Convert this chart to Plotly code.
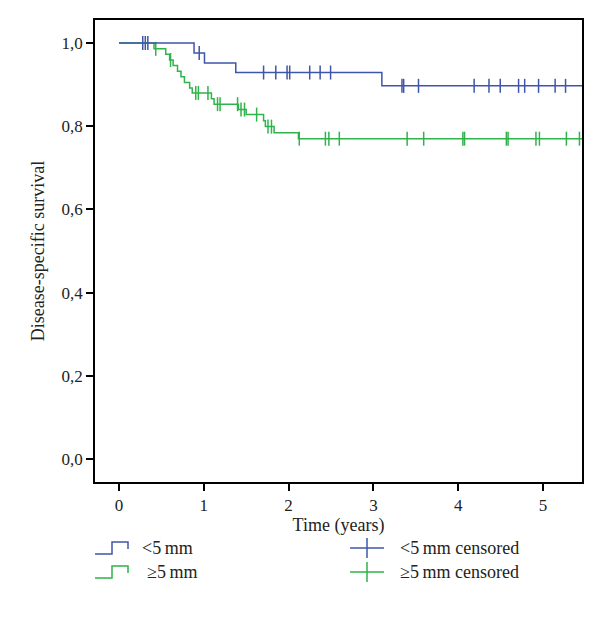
import numpy as np
import plotly.graph_objects as go

# Kaplan-Meier steps (time in years, survival)
lt5_time = [0.0, 0.885, 1.008, 1.377, 3.10, 5.46]
lt5_surv = [1.0, 0.976, 0.952, 0.929, 0.897, 0.897]
lt5_censored = [0.28, 0.31, 0.34, 0.946, 1.705, 1.849, 1.982, 2.013, 2.249, 2.372, 2.495,
                3.337, 3.357, 3.532, 4.188, 4.363, 4.496, 4.712, 4.784, 4.948, 5.143, 5.266]

ge5_time = [0.0, 0.413, 0.551, 0.597, 0.638, 0.69, 0.731, 0.772, 0.833, 0.864, 1.09, 1.121,
            1.408, 1.50, 1.705, 1.726, 1.829, 2.116, 5.46]
ge5_surv = [1.0, 0.986, 0.973, 0.959, 0.946, 0.932, 0.919, 0.905, 0.892, 0.880, 0.866,
            0.853, 0.840, 0.828, 0.813, 0.799, 0.784, 0.770, 0.770]
ge5_censored = [0.433, 0.608, 0.905, 0.936, 1.049, 1.162, 1.192, 1.398, 1.439, 1.48, 1.623,
                1.757, 1.798, 2.126, 2.434, 2.475, 2.598, 3.398, 3.593, 4.055, 4.075, 4.568,
                4.588, 4.917, 4.958, 5.276, 5.43]

blue = "#3F56A8"
green = "#2FB34A"
font = "Liberation Serif"
txt = "#222222"


def surv_at(times, surv, t):
    idx = np.searchsorted(np.array(times), np.array(t), side="right") - 1
    return np.array(surv)[idx]


fig = go.Figure()
for t, s, c, col in [(ge5_time, ge5_surv, ge5_censored, green),
                     (lt5_time, lt5_surv, lt5_censored, blue)]:
    fig.add_trace(go.Scatter(x=t, y=s, mode="lines", line=dict(color=col, width=1.5, shape="hv"),
                             showlegend=False, hoverinfo="skip"))
    fig.add_trace(go.Scatter(x=c, y=surv_at(t, s, c), mode="markers",
                             marker=dict(symbol="line-ns", size=10, line=dict(color=col, width=1.5)),
                             showlegend=False, hoverinfo="skip", cliponaxis=False))

axis_common = dict(showline=True, linecolor="black", linewidth=1.5, mirror=True,
                   ticks="outside", ticklen=7, tickcolor="black", tickwidth=1.5,
                   showgrid=False, zeroline=False,
                   tickfont=dict(family=font, size=17, color=txt))
fig.update_xaxes(range=[-0.283, 5.46], tickvals=[0, 1, 2, 3, 4, 5],
                 title=dict(text="Time (years)", font=dict(family=font, size=18, color=txt), standoff=2),
                 **axis_common)
fig.update_yaxes(range=[-0.0553, 1.0553], tickvals=[0, 0.2, 0.4, 0.6, 0.8, 1.0], tickformat=".1f",
                 title=dict(text="Disease-specific survival", font=dict(family=font, size=18, color=txt),
                            standoff=12),
                 **axis_common)

# hand-drawn legend below the plot; positions in pixels converted to paper units
L, R, T, B = 95, 582, 20, 482


def px(x):
    return (x - L) / (R - L)


def py(y):
    return (B - y) / (B - T)


shapes = []
annots = []
rows = [(548, blue, "<5\u2009mm", 140), (572, green, "\u22655\u2009mm", 145)]
for ry, col, lab, tx in rows:
    path = "M {} {} H {} V {} H {} V {}".format(px(95), py(ry + 6), px(112), py(ry - 6),
                                               px(128), py(ry + 1))
    shapes.append(dict(type="path", xref="paper", yref="paper", path=path,
                       line=dict(color=col, width=1.5)))
    annots.append(dict(xref="paper", yref="paper", x=px(tx), y=py(ry), text=lab, showarrow=False,
                       xanchor="left", yanchor="middle", font=dict(family=font, size=18, color=txt)))
    shapes.append(dict(type="line", xref="paper", yref="paper", x0=px(350), x1=px(384),
                       y0=py(ry), y1=py(ry), line=dict(color=col, width=1.5)))
    shapes.append(dict(type="line", xref="paper", yref="paper", x0=px(367), x1=px(367),
                       y0=py(ry - 10), y1=py(ry + 10), line=dict(color=col, width=1.5)))
    annots.append(dict(xref="paper", yref="paper", x=px(398), y=py(ry), text=lab + " censored",
                       showarrow=False, xanchor="left", yanchor="middle",
                       font=dict(family=font, size=18, color=txt)))

fig.update_layout(width=600, height=632, margin=dict(l=95, r=18, t=20, b=150),
                  plot_bgcolor="white", paper_bgcolor="white", separators=", ",
                  shapes=shapes, annotations=annots)
fig.write_html("out.html", config={"displayModeBar": False},
               post_script="document.body.style.margin='0';")
